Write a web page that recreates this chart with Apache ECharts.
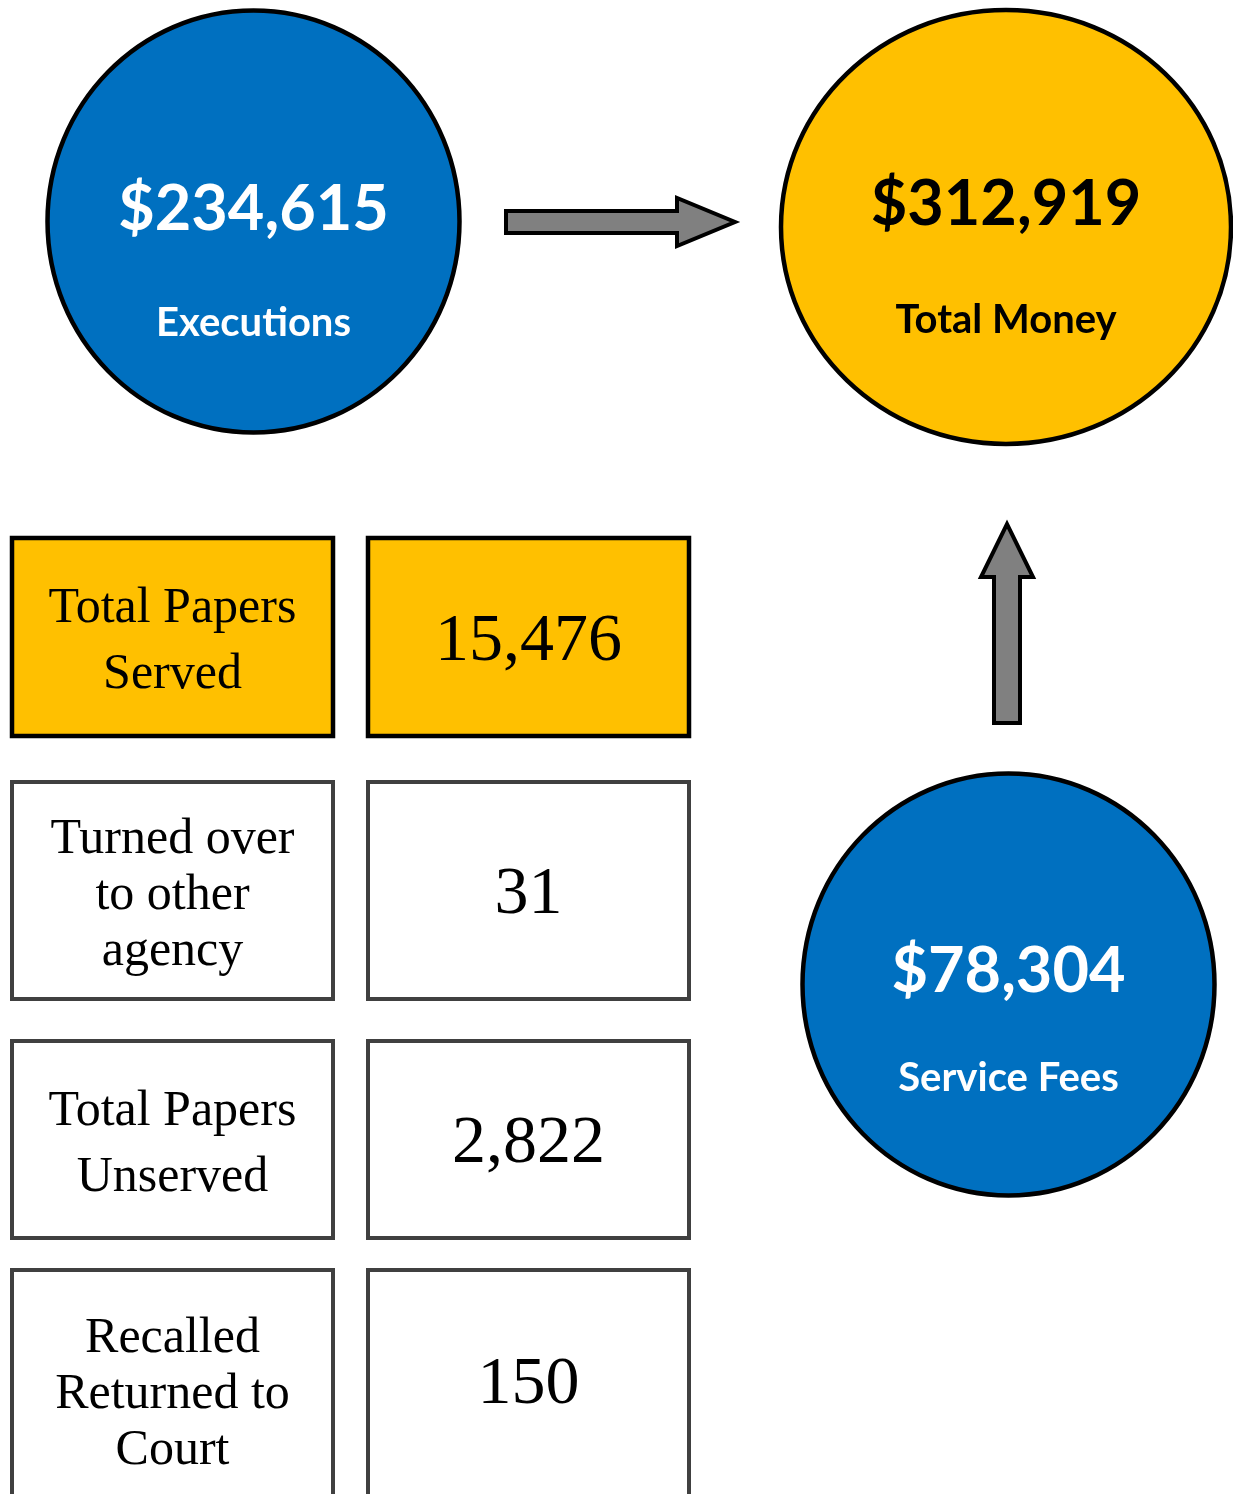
<!DOCTYPE html>
<html>
<head>
<meta charset="utf-8">
<title>Papers and money</title>
<script src="https://cdn.jsdelivr.net/npm/echarts@6/dist/echarts.min.js"></script>
<style>
  html, body { margin: 0; padding: 0; background: #fff; }
  #main { width: 1233px; height: 1494px; }
</style>
</head>
<body>
<div id="main"></div>
<script>
// money circles
const moneyLabels = ['Executions', 'Total Money', 'Service Fees'];
const moneyValues = [234615, 312919, 78304];
// paper boxes
const paperLabels = ['Total Papers\nServed', 'Turned over\nto other\nagency', 'Total Papers\nUnserved', 'Recalled\nReturned to\nCourt'];
const paperValues = [15476, 31, 2822, 150];

// layout (page pixels)
const W = 1233, H = 1494;
const circleLayout = [
  { cx: 253.5, cy: 221.5, rx: 206, ry: 211, fill: '#0070C0', text: '#fff', numY: 210, labY: 323 },
  { cx: 1006, cy: 227, rx: 225, ry: 217, fill: '#FFC000', text: '#000', numY: 205, labY: 320 },
  { cx: 1008.5, cy: 984.5, rx: 206, ry: 211, fill: '#0070C0', text: '#fff', numY: 972, labY: 1078 }
];
const boxRows = [
  { top: 538, bottom: 736, lh: 66, fill: '#FFC000', border: '#000' },
  { top: 782, bottom: 999, lh: 56, fill: '#fff', border: '#404040' },
  { top: 1041, bottom: 1238, lh: 66, fill: '#fff', border: '#404040' },
  { top: 1270, bottom: 1500, lh: 56, fill: '#fff', border: '#404040', textMid: 1390, valMid: 1380 }
];
const boxCols = [[12, 333], [368, 689]];
const textDy = 5;
const arrows = [
  [[506, 211], [677, 211], [677, 198], [735, 222], [677, 246], [677, 233], [506, 233]],
  [[994, 723], [994, 577], [981, 577], [1007, 524], [1033, 577], [1020, 577], [1020, 723]]
];

const fmt = v => v.toLocaleString('en-US');
const chart = echarts.init(document.getElementById('main'));

chart.setOption({
  animation: false,
  grid: { left: 0, right: 0, top: 0, bottom: 0 },
  xAxis: { type: 'value', min: 0, max: W, show: false },
  yAxis: { type: 'value', min: 0, max: H, inverse: true, show: false },
  series: [
    {
      type: 'custom',
      name: 'arrows',
      clip: false,
      data: arrows.map((a, i) => [a[0][0], a[0][1], i]),
      renderItem: function (params, api) {
        const pts = arrows[api.value(2)].map(p => api.coord(p));
        return {
          type: 'polygon',
          shape: { points: pts },
          style: { fill: '#808080', stroke: '#000', lineWidth: 4, lineJoin: 'miter' }
        };
      }
    },
    {
      type: 'custom',
      name: 'money',
      clip: false,
      data: moneyValues.map((v, i) => [circleLayout[i].cx, circleLayout[i].cy, i]),
      renderItem: function (params, api) {
        const i = api.value(2);
        const c = circleLayout[i];
        const p = api.coord([c.cx, c.cy]);
        const n = api.coord([c.cx, c.numY]);
        const l = api.coord([c.cx, c.labY]);
        return {
          type: 'group',
          children: [
            {
              type: 'ellipse',
              shape: { cx: p[0], cy: p[1], rx: c.rx, ry: c.ry },
              style: { fill: c.fill, stroke: '#000', lineWidth: 4.5 }
            },
            {
              type: 'text',
              style: {
                text: '$' + fmt(moneyValues[i]), x: n[0], y: n[1],
                align: 'center', verticalAlign: 'middle', fill: c.text,
                font: 'bold 63px Lato, "DejaVu Sans", sans-serif'
              }
            },
            {
              type: 'text',
              style: {
                text: moneyLabels[i], x: l[0], y: l[1],
                align: 'center', verticalAlign: 'middle', fill: c.text,
                font: 'bold 40px Lato, "DejaVu Sans", sans-serif'
              }
            }
          ]
        };
      }
    },
    {
      type: 'custom',
      name: 'papers',
      clip: false,
      data: paperValues.map((v, i) => [boxCols[0][0], boxRows[i].top, i]),
      renderItem: function (params, api) {
        const i = api.value(2);
        const r = boxRows[i];
        const kids = [];
        boxCols.forEach(function (col, j) {
          const a = api.coord([col[0], r.top]);
          const b = api.coord([col[1], r.bottom]);
          kids.push({
            type: 'rect',
            shape: { x: a[0], y: a[1], width: b[0] - a[0], height: b[1] - a[1] },
            style: { fill: r.fill, stroke: r.border, lineWidth: i === 0 ? 4.5 : 4 }
          });
          const mid = j === 0 ? (r.textMid || (r.top + r.bottom) / 2) : (r.valMid || (r.top + r.bottom) / 2);
          const c = api.coord([(col[0] + col[1]) / 2, mid + textDy]);
          kids.push({
            type: 'text',
            style: j === 0 ? {
              text: paperLabels[i], x: c[0], y: c[1],
              align: 'center', verticalAlign: 'middle', fill: '#000',
              lineHeight: r.lh, font: '50px "Liberation Serif", "DejaVu Serif", serif'
            } : {
              text: fmt(paperValues[i]), x: c[0], y: c[1],
              align: 'center', verticalAlign: 'middle', fill: '#000',
              font: '68px "Liberation Serif", "DejaVu Serif", serif'
            }
          });
        });
        return { type: 'group', children: kids };
      }
    }
  ]
});
</script>
</body>
</html>
